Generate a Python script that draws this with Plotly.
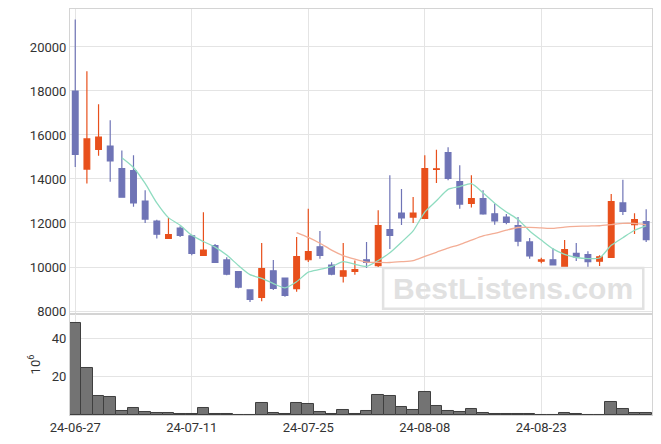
import plotly.graph_objects as go
from plotly.subplots import make_subplots
import pandas as pd

dates = [
    "2024-06-27", "2024-06-28", "2024-07-01", "2024-07-02", "2024-07-03",
    "2024-07-04", "2024-07-05", "2024-07-08", "2024-07-09", "2024-07-10",
    "2024-07-11", "2024-07-12", "2024-07-15", "2024-07-16", "2024-07-17",
    "2024-07-18", "2024-07-19", "2024-07-22", "2024-07-23", "2024-07-24",
    "2024-07-25", "2024-07-26", "2024-07-29", "2024-07-30", "2024-07-31",
    "2024-08-01", "2024-08-02", "2024-08-05", "2024-08-06", "2024-08-07",
    "2024-08-08", "2024-08-09", "2024-08-12", "2024-08-13", "2024-08-14",
    "2024-08-16", "2024-08-19", "2024-08-20", "2024-08-21", "2024-08-22",
    "2024-08-23", "2024-08-26", "2024-08-27", "2024-08-28", "2024-08-29",
    "2024-08-30", "2024-09-02", "2024-09-03", "2024-09-04", "2024-09-05",
]
opens = [
    18000, 14450, 15350, 15500, 14470, 14380, 13000, 12090, 11300, 11770,
    11420, 10530, 10970, 10320, 9790, 8960, 8620, 9830, 9500, 9020,
    10330, 10920, 10090, 9580, 9800, 10330, 10060, 11700, 12450, 12270,
    12210, 14440, 15200, 13880, 12890, 13110, 12420, 12270, 11880, 11140,
    10260, 10330, 9990, 10620, 10560, 10260, 10440, 12910, 11920, 12060,
]
highs = [
    21250, 18900, 17400, 16670, 15300, 15080, 13490, 12150, 12230, 11850,
    11470, 12490, 11050, 10440, 9800, 8970, 11090, 10320, 9510, 11360,
    12650, 11640, 10210, 11090, 10290, 11140, 12580, 14170, 13550, 13180,
    15080, 15330, 15440, 14620, 14170, 13490, 12880, 12410, 12270, 11320,
    10420, 10850, 11230, 11090, 10710, 10530, 13320, 13970, 12440, 12620,
]
lows = [
    14550, 13790, 15060, 13880, 13150, 12740, 12000, 11290, 11300, 11360,
    10530, 10530, 10200, 9620, 9030, 8410, 8440, 8950, 8650, 8870,
    10230, 10380, 9620, 9300, 9650, 9960, 10000, 10820, 11910, 12000,
    12200, 13820, 13940, 12650, 12700, 12380, 11920, 11940, 10940, 10380,
    10170, 10070, 9990, 10270, 10000, 10050, 10440, 12360, 11500, 11140,
]
closes = [
    15120, 15820, 15900, 14820, 13170, 12910, 12180, 11490, 11470, 11440,
    10620, 10770, 10210, 9670, 9080, 8530, 9925, 9030, 8710, 10470,
    10700, 10530, 9670, 9830, 9880, 10210, 11880, 11440, 12230, 12450,
    14470, 14460, 14030, 12860, 13110, 12410, 12090, 12030, 11170, 10500,
    10320, 10090, 10790, 10460, 10240, 10460, 12970, 12530, 12150, 11240,
]
volumes = [  # millions of shares
    48.2, 24.6, 9.8, 9.3, 1.9, 3.5, 1.4, 0.9, 0.9, 0.35,
    0.35, 3.5, 0.35, 0.35, 0.1, 0.1, 6.1, 0.9, 0.35, 6.1,
    5.6, 1.4, 0.35, 2.5, 0.35, 2.1, 10.4, 9.8, 4.0, 2.6,
    12.1, 4.6, 2.1, 1.4, 3.2, 0.9, 0.35, 0.35, 0.35, 0.35,
    0.1, 0.1, 0.9, 0.35, 0.1, 0.1, 6.7, 3.0, 0.9, 0.9,
]
price_ticks = [8000, 10000, 12000, 14000, 16000, 18000, 20000]
volume_ticks = [20, 40]
tick_every = 10

labels = [d[2:] for d in dates]
close_s = pd.Series(closes)
ma5 = close_s.rolling(5).mean()
ma20 = close_s.rolling(20).mean()

fig = make_subplots(rows=2, cols=1, shared_xaxes=True, vertical_spacing=0,
                    row_heights=[0.7512, 0.2488])

fig.add_trace(go.Candlestick(
    x=labels, open=opens, high=highs, low=lows, close=closes,
    increasing=dict(line=dict(color="#E8501C", width=1.2), fillcolor="#E8501C"),
    decreasing=dict(line=dict(color="#6F74B6", width=1.2), fillcolor="#6F74B6"),
    showlegend=False, hoverinfo="skip"), row=1, col=1)

fig.add_trace(go.Scatter(x=labels, y=ma5, mode="lines",
                         line=dict(color="#8FDCC0", width=1.3, shape="spline", smoothing=0.6),
                         showlegend=False, hoverinfo="skip"), row=1, col=1)
fig.add_trace(go.Scatter(x=labels, y=ma20, mode="lines",
                         line=dict(color="#F3AD95", width=1.3, shape="spline", smoothing=0.6),
                         showlegend=False, hoverinfo="skip"), row=1, col=1)

fig.add_trace(go.Bar(x=labels, y=volumes,
                     marker=dict(color="#737373", line=dict(color="#3f3f3f", width=1)),
                     showlegend=False, hoverinfo="skip"), row=2, col=1)

grid = "#E4E4E4"
border = "#D4D4D4"
font = dict(family="Roboto", size=13, color="#333333")

common_x = dict(type="category", range=[-0.45, 49.5], showgrid=True, gridcolor=grid,
                showline=True, mirror=True, linecolor=border, linewidth=1,
                ticks="", tickvals=labels[::tick_every], ticktext=labels[::tick_every],
                tickfont=font, zeroline=False, automargin=False)
fig.update_xaxes(**common_x)
fig.update_xaxes(rangeslider_visible=False, row=1, col=1)

fig.update_yaxes(range=[7864, 21727], tickvals=price_ticks, tickformat="d", showgrid=True,
                 gridcolor=grid, showline=True, mirror=True, linecolor=border, ticks="",
                 tickfont=font, zeroline=False, automargin=False, row=1, col=1)
fig.update_yaxes(range=[0, 53], tickvals=volume_ticks, tickformat="d", showgrid=True,
                 gridcolor=grid, showline=True, mirror=True, linecolor=border, ticks="",
                 tickfont=font, zeroline=False, automargin=False,
                 title=dict(text="10<sup>6</sup>", font=font, standoff=8),
                 row=2, col=1)

fig.add_shape(type="rect", xref="paper", yref="paper", x0=0.538, x1=0.985, y0=0.262, y1=0.362,
              line=dict(color="#E2E2E2", width=2.5), fillcolor="rgba(255,255,255,0.55)",
              layer="above")
fig.add_annotation(xref="paper", yref="paper", x=0.7615, y=0.312, xanchor="center",
                   yanchor="middle", text="<b>BestListens.com</b>", showarrow=False,
                   font=dict(family="Liberation Sans", size=30, color="#E1E1E1"))

fig.update_layout(width=661, height=444, margin=dict(l=70, r=9, t=9, b=29),
                  paper_bgcolor="white", plot_bgcolor="white", bargap=0, boxgap=0.3,
                  font=font, showlegend=False)

fig.write_html("out.html", config={"displayModeBar": False},
               post_script="document.body.style.margin='0';document.body.style.overflow='hidden';")
